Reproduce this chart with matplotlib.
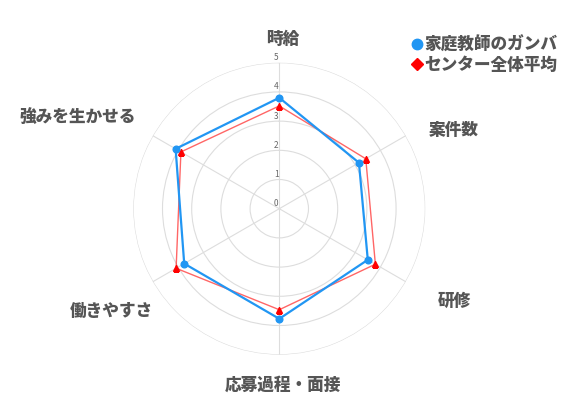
import numpy as np
import matplotlib
matplotlib.use('Agg')
import matplotlib.pyplot as plt
from matplotlib.lines import Line2D
from matplotlib.transforms import offset_copy

plt.rcParams['font.family'] = ['Noto Sans CJK JP', 'DejaVu Sans']

# data
categories = ['時給', '案件数', '研修', '応募過程・面接', '働きやすさ', '強みを生かせる']
gamba = [3.8, 3.15, 3.5, 3.77, 3.76, 4.1]
center_avg = [3.52, 3.42, 3.8, 3.46, 4.08, 3.89]
series_names = ['家庭教師のガンバ', 'センター全体平均']
r_ticks = [0, 1, 2, 3, 4, 5]

BLUE = '#2196F3'
RED = '#FF0000'
TEXT = '#555555'

fig = plt.figure(figsize=(5.81, 4.17), dpi=100)
ax = fig.add_axes([0.2294, 0.1494, 0.5026, 0.7002], projection='polar')
ax.set_theta_zero_location('N')
ax.set_theta_direction(-1)

angles = np.linspace(0, 2 * np.pi, len(categories), endpoint=False)
closed = np.append(angles, angles[0])


def _close(vals):
    return np.append(vals, vals[0])


# red (average) under blue
ax.plot(closed, _close(center_avg), color=RED, lw=1.0, alpha=0.6, zorder=3)
ax.plot(angles, center_avg, ls='none', marker='^', ms=5, color=RED, zorder=4)
ax.plot(closed, _close(gamba), color=BLUE, lw=1.6, zorder=5)
ax.plot(angles, gamba, ls='none', marker='o', ms=4.8, color=BLUE, zorder=6)

ax.set_ylim(0, 5)
ax.set_xticks(angles)
ax.set_xticklabels([])
ax.set_yticks(r_ticks[1:])
ax.set_yticklabels([])
ax.grid(color='#dddddd', lw=0.8)
ax.spines['polar'].set_visible(False)

# radial tick labels, just above each ring on the top spoke
tick_tr = offset_copy(ax.transData, fig=fig, x=-3, y=5, units='dots')
for v in r_ticks:
    ax.text(0, v, str(v), transform=tick_tr, ha='center', va='center',
            fontsize=6, color='#666666')

# category labels (axes fraction positions)
label_pos = [(0.511, 1.081), (1.098, 0.768), (1.100, 0.183),
             (0.514, -0.102), (-0.074, 0.150), (-0.190, 0.815)]
for name, (x, y) in zip(categories, label_pos):
    ax.text(x, y, name, transform=ax.transAxes, ha='center', va='center',
            fontsize=12, fontweight='heavy', color=TEXT)

handles = [
    Line2D([], [], ls='none', marker='o', ms=7.5, color=BLUE),
    Line2D([], [], ls='none', marker='D', ms=6.5, color=RED),
]
leg = fig.legend(handles, series_names, loc='upper left',
                 bbox_to_anchor=(412 / 581, 1 - 36 / 417), frameon=False,
                 handlelength=0.6, handletextpad=0.15, labelspacing=0.1,
                 borderpad=0, borderaxespad=0,
                 prop={'size': 12, 'weight': 'heavy'})
for t in leg.get_texts():
    t.set_color(TEXT)

fig.savefig('out.png', dpi=100, facecolor='white')
